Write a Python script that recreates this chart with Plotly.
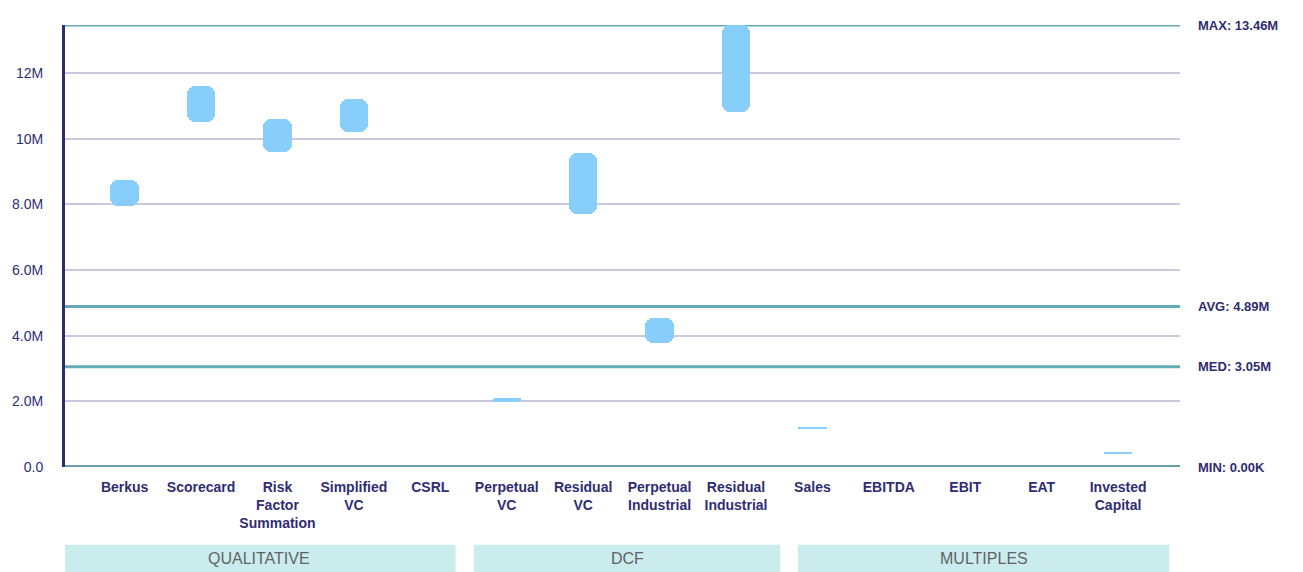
import plotly.graph_objects as go

# Valuation methods and their estimated value ranges (in currency units)
methods = [
    "Berkus", "Scorecard", "Risk<br>Factor<br>Summation", "Simplified<br>VC", "CSRL",
    "Perpetual<br>VC", "Residual<br>VC", "Perpetual<br>Industrial", "Residual<br>Industrial",
    "Sales", "EBITDA", "EBIT", "EAT", "Invested<br>Capital",
]
range_low = [7.95e6, 10.5e6, 9.6e6, 10.2e6, None,
             1.97e6, 7.7e6, 3.78e6, 10.82e6,
             1.18e6, None, None, None, 0.42e6]
range_high = [8.75e6, 11.6e6, 10.6e6, 11.2e6, None,
              2.09e6, 9.55e6, 4.55e6, 13.46e6,
              1.23e6, None, None, None, 0.46e6]

# Summary statistics shown as reference lines
stat_names = ["MAX", "AVG", "MED", "MIN"]
stat_values = [13.46e6, 4.89e6, 3.05e6, 0.0]
stat_labels = ["13.46M", "4.89M", "3.05M", "0.00K"]

# Method families
groups = ["QUALITATIVE", "DCF", "MULTIPLES"]
group_edges = [(-0.8, 4.33), (4.57, 8.58), (8.81, 13.67)]

y_ticks = [0, 2e6, 4e6, 6e6, 8e6, 10e6, 12e6]
y_tick_text = ["0.0", "2.0M", "4.0M", "6.0M", "8.0M", "10M", "12M"]

NAVY = "#2f2d72"
TEAL = "#62abb4"
BAR = "#87CEFA"
FONT = "Liberation Sans, Arial, sans-serif"
LABEL_FONT = dict(family=FONT, size=14, color=NAVY, weight="bold")

xs = list(range(len(methods)))
bar_x, bar_base, bar_len = [], [], []
for i, (lo, hi) in enumerate(zip(range_low, range_high)):
    if lo is None or hi is None:
        continue
    bar_x.append(i)
    bar_base.append(lo)
    bar_len.append(hi - lo)

fig = go.Figure()
fig.add_trace(go.Bar(
    x=bar_x, y=bar_len, base=bar_base, width=0.37,
    marker=dict(color=BAR, line=dict(width=0), cornerradius=8),
    hoverinfo="skip", showlegend=False,
))

shapes = []
annotations = []
for name, val, txt in zip(stat_names, stat_values, stat_labels):
    shapes.append(dict(type="line", xref="paper", yref="y", x0=0, x1=1, y0=val, y1=val,
                       line=dict(color=TEAL if name != "MIN" else "#6a9fb2",
                                 width=3 if name != "MIN" else 4),
                       layer="below"))
    annotations.append(dict(xref="paper", yref="y", x=1, y=val, xanchor="left", yanchor="middle",
                            xshift=16, text=f"{name}: {txt}", showarrow=False,
                            font=dict(family=FONT, size=13, color=NAVY, weight="bold")))

for g, (x0, x1) in zip(groups, group_edges):
    shapes.append(dict(type="rect", xref="x", yref="paper", x0=x0, x1=x1, y0=-0.24, y1=-0.176,
                       fillcolor="#cbecec", line=dict(width=0), layer="below"))
    annotations.append(dict(xref="x", yref="paper", x=(x0 + x1) / 2, y=-0.207, text=g,
                            showarrow=False, xanchor="center", yanchor="middle",
                            font=dict(family=FONT, size=16, color="#5f6468")))

fig.update_layout(
    width=1303, height=572,
    margin=dict(l=63, r=123, t=25, b=105),
    paper_bgcolor="white", plot_bgcolor="white",
    shapes=shapes, annotations=annotations,
    font=dict(family=FONT, size=14, color=NAVY),
    xaxis=dict(range=[-0.78, 13.81], tickvals=xs, ticktext=methods, showgrid=False,
               zeroline=False, showline=False, ticks="", ticklabelstandoff=10,
               tickfont=LABEL_FONT),
    yaxis=dict(range=[0, 13.46e6], tickvals=y_ticks, ticktext=y_tick_text,
               showgrid=True, gridcolor="#cac8dc", gridwidth=1.5, zeroline=False,
               showline=True, linecolor=NAVY, linewidth=3, ticks="",
               ticklabelstandoff=16, tickfont=dict(family=FONT, size=14, color=NAVY)),
    bargap=0,
)

fig.write_html("out.html")
